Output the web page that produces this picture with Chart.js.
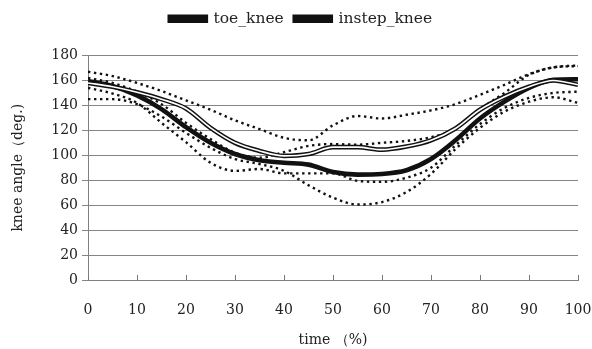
<!DOCTYPE html>
<html>
<head>
<meta charset="utf-8">
<script src="https://cdn.jsdelivr.net/npm/chart.js@4.4.1/dist/chart.umd.min.js"></script>
<style>
  html, body { margin: 0; padding: 0; background: #fff; }
  #wrap { width: 592px; height: 349px; }
</style>
</head>
<body>
<div id="wrap"><canvas id="knee-chart"></canvas></div>
<script>
// time axis (%), one value every 5 %
const timePct = [0, 5, 10, 15, 20, 25, 30, 35, 40, 45, 50, 55, 60, 65, 70, 75, 80, 85, 90, 95, 100];

// mean curves
const toeKnee    = [158, 155, 150.5, 145, 137.5, 122, 110, 103.5, 99.5, 101, 106.5, 106.5, 104.5, 107, 112, 121.5, 136.5, 147, 155, 160, 156.5];
const instepKnee = [159.5, 155.5, 148, 137, 122.5, 110, 101, 96, 94, 92.5, 86.5, 84.5, 85, 88, 97, 112, 129.5, 143, 154, 160.5, 161];

// dotted curves (mean +/- SD)
const toePlusSD    = [167, 163.5, 158, 151.5, 144, 136.5, 128, 121, 114, 112, 124, 131.5, 129.5, 132.5, 136, 141, 148.5, 156.5, 165, 170.5, 171.5];
const toeMinusSD   = [154, 149.5, 142, 126, 110.5, 94, 87.5, 89, 85.5, 85.5, 85.5, 79.5, 78.7, 82, 90, 108, 125, 138, 146, 150, 151];
const instepPlusSD = [162, 158, 151, 141, 126, 113, 102, 98, 102.5, 107.5, 109, 108.5, 110, 111.5, 114.5, 121, 137, 150, 164.5, 170.5, 172];
const instepMinusSD = [145, 145, 141, 131, 118, 106, 97, 93, 87.5, 76, 66, 60.5, 62.5, 70.5, 85, 105, 122, 135, 143, 146.5, 142];

const yTicks = [0, 20, 40, 60, 80, 100, 120, 140, 160, 180];
const xTicks = [0, 10, 20, 30, 40, 50, 60, 70, 80, 90, 100];

Chart.defaults.font.family = "'DejaVu Serif', 'Liberation Serif', serif";
Chart.defaults.font.size = 14;
Chart.defaults.color = '#222';

function pts(values) {
    return values.map((v, i) => ({ x: timePct[i], y: v }));
}

function solid(label, values, color, width) {
    return {
        label: label,
        data: pts(values),
        borderColor: color,
        backgroundColor: color,
        borderWidth: width,
        pointRadius: 0,
        cubicInterpolationMode: 'monotone',
        fill: false
    };
}

function dotted(label, values) {
    return {
        label: label,
        data: pts(values),
        borderColor: '#111',
        backgroundColor: '#111',
        borderWidth: 2.4,
        borderDash: [2.4, 3.6],
        pointRadius: 0,
        cubicInterpolationMode: 'monotone',
        fill: false
    };
}

// small inward tick marks on the x axis
const innerTicks = {
    id: 'innerTicks',
    afterDatasetsDraw(chart) {
        const x = chart.scales.x;
        const y = chart.scales.y;
        const ctx = chart.ctx;
        const base = y.getPixelForValue(0);
        ctx.save();
        ctx.strokeStyle = '#777';
        ctx.lineWidth = 1;
        xTicks.forEach(v => {
            const px = Math.round(x.getPixelForValue(v)) + 0.5;
            ctx.beginPath();
            ctx.moveTo(px, base);
            ctx.lineTo(px, base - 5);
            ctx.stroke();
        });
        ctx.restore();
    }
};

// extra room below the legend
const legendGap = {
    id: 'legendGap',
    beforeInit(chart) {
        const fit = chart.legend.fit;
        chart.legend.fit = function () {
            fit.bind(chart.legend)();
            this.height += 19;
        };
    }
};

const config = {
    type: 'line',
    data: {
        datasets: [
            solid('toe_white', toeKnee, '#fff', 1.6),
            solid('toe_knee', toeKnee, '#111', 4.6),
            solid('instep_knee', instepKnee, '#111', 4.6),
            dotted('toe_plus', toePlusSD),
            dotted('toe_minus', toeMinusSD),
            dotted('instep_plus', instepPlusSD),
            dotted('instep_minus', instepMinusSD)
        ]
    },
    options: {
        responsive: true,
        maintainAspectRatio: false,
        animation: false,
        layout: {
            padding: { left: 10, right: 0, top: 0, bottom: 0 }
        },
        plugins: {
            legend: {
                display: true,
                position: 'top',
                labels: {
                    boxWidth: 36,
                    boxHeight: 4,
                    padding: 11,
                    color: '#222',
                    font: { size: 15.5 },
                    filter: item => item.text === 'toe_knee' || item.text === 'instep_knee'
                }
            },
            tooltip: { enabled: false }
        },
        scales: {
            x: {
                type: 'linear',
                min: 0,
                max: 100,
                afterBuildTicks: scale => {
                    scale.ticks = xTicks.map(v => ({ value: v }));
                },
                afterFit: scale => {
                    scale.height = 69;
                    scale.paddingLeft = 0;
                    scale.paddingRight = 14;
                },
                grid: {
                    display: true,
                    drawOnChartArea: false,
                    drawTicks: false
                },
                border: { display: true, color: '#808080', width: 1 },
                ticks: {
                    padding: 22,
                    maxRotation: 0,
                    color: '#222'
                },
                title: {
                    display: true,
                    text: 'time （%)',
                    color: '#222',
                    font: { size: 14 },
                    padding: { top: 7, bottom: 0 }
                }
            },
            y: {
                min: 0,
                max: 180,
                afterBuildTicks: scale => {
                    scale.ticks = yTicks.map(v => ({ value: v }));
                },
                afterFit: scale => { scale.width = 78; },
                grid: {
                    color: '#858585',
                    lineWidth: 1,
                    tickLength: 6,
                    drawTicks: true
                },
                border: { display: true, color: '#808080', width: 1 },
                ticks: {
                    padding: 4,
                    color: '#222'
                },
                title: {
                    display: true,
                    text: 'knee angle（deg.)',
                    color: '#222',
                    font: { size: 14 },
                    padding: { top: 0, bottom: 4 }
                }
            }
        }
    },
    plugins: [innerTicks, legendGap]
};

new Chart(document.getElementById('knee-chart'), config);
</script>
</body>
</html>
